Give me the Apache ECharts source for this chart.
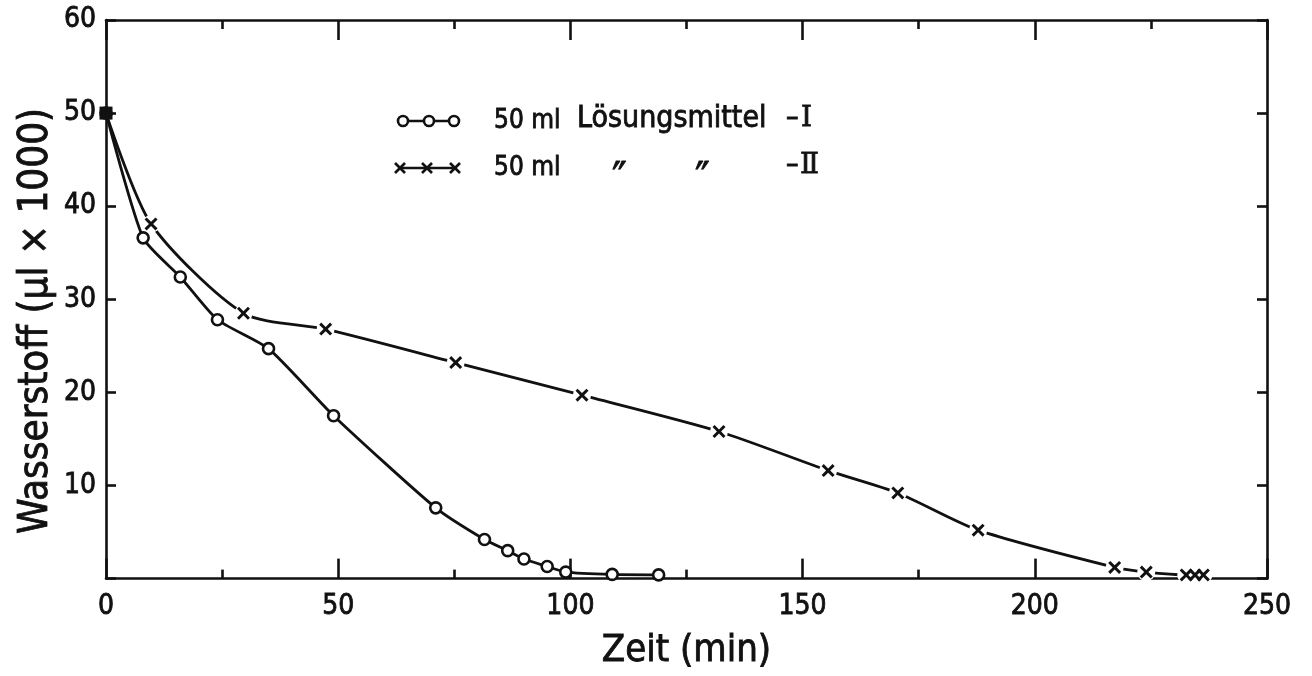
<!DOCTYPE html>
<html>
<head>
<meta charset="utf-8">
<script src="https://cdn.jsdelivr.net/npm/echarts@6/dist/echarts.min.js"></script>
<style>
  html, body { margin: 0; padding: 0; background: #fff; }
  #chart { width: 1312px; height: 676px; }
</style>
</head>
<body>
<div id="chart"></div>
<script>
// Hydrogen uptake over time for two solvent batches
const timeI  = [0, 8, 16, 24, 35, 49, 71, 81.5, 86.5, 90, 95, 99, 109, 119];
const valueI = [50, 36.6, 32.4, 27.8, 24.7, 17.5, 7.6, 4.2, 3.0, 2.1, 1.3, 0.7, 0.45, 0.4];

const timeII  = [0, 9.7, 29.6, 47.3, 75.3, 102.5, 132, 155.5, 170.5, 187.8, 217.2, 224, 232.6, 234.5, 236.3];
const valueII = [50, 38.1, 28.5, 26.8, 23.2, 19.7, 15.8, 11.6, 9.2, 5.2, 1.2, 0.7, 0.4, 0.4, 0.4];

const xTicks = [0, 50, 100, 150, 200, 250];
const yTicks = [10, 20, 30, 40, 50, 60];

const FONT = "'DejaVu Sans Condensed', 'Liberation Sans Narrow', sans-serif";
const SERIF = "'DejaVu Serif', 'Liberation Serif', serif";
const INK = '#111';
const BOLDEN = { textBorderColor: INK, textBorderWidth: 0.8 };
const BOLDEN_G = { stroke: INK, lineWidth: 0.8 };

const pairs = (xs, ys) => xs.map((x, i) => [x, ys[i]]);
const dataI = pairs(timeI, valueI);
const dataII = pairs(timeII, valueII);
const start = [[timeI[0], valueI[0]]];

const chart = echarts.init(document.getElementById('chart'), null, { renderer: 'canvas' });

const xBase = {
  type: 'value', min: xTicks[0], max: xTicks[xTicks.length - 1], interval: 50,
  axisLine: { show: true, onZero: false, lineStyle: { color: INK, width: 2.6 } },
  axisTick: { show: true, inside: true, length: 20, lineStyle: { color: INK, width: 2.6 } },
  minorTick: { show: true, splitNumber: 2, length: 9, lineStyle: { color: INK, width: 2.6 } },
  splitLine: { show: false }, minorSplitLine: { show: false }
};
const yBase = {
  type: 'value', min: 0, max: yTicks[yTicks.length - 1], interval: 10,
  axisLine: { show: true, onZero: false, lineStyle: { color: INK, width: 2.6 } },
  axisTick: { show: true, inside: true, length: 10, lineStyle: { color: INK, width: 2.6 } },
  splitLine: { show: false }
};

// solid X outline so the marker stays crisp
const cross = 'path://M0,1.6 L1.6,0 L5,3.4 L8.4,0 L10,1.6 L6.6,5 L10,8.4 L8.4,10 L5,6.6 L1.6,10 L0,8.4 L3.4,5 Z';

// key glyphs
const keyLine = (x1, y1, x2, y2) => ({ type: 'line', shape: { x1, y1, x2, y2 }, style: { stroke: INK, lineWidth: 2.6 } });
const keyCircle = (cx, cy) => ({ type: 'circle', shape: { cx, cy, r: 5 }, style: { fill: '#fff', stroke: INK, lineWidth: 2.6 } });
const keyCross = (cx, cy) => [keyLine(cx - 5, cy - 5, cx + 5, cy + 5), keyLine(cx + 5, cy - 5, cx - 5, cy + 5)];
const keyText = (x, y, text, size, family) => ({ type: 'text', x, y,
  style: Object.assign({ text, fill: INK, font: (size || 28) + 'px ' + (family || FONT), verticalAlign: 'middle' }, BOLDEN_G) });

chart.setOption({
  backgroundColor: '#fff',
  animation: false,
  grid: { left: 106, right: 45, top: 20, bottom: 96, containLabel: false },
  xAxis: [
    Object.assign({}, xBase, {
      position: 'bottom',
      axisLabel: Object.assign({ show: true, color: INK, fontFamily: FONT, fontSize: 28, margin: 14,
        formatter: v => xTicks.includes(v) ? String(v) : '' }, BOLDEN),
      name: 'Zeit (min)', nameLocation: 'middle', nameGap: 54,
      nameTextStyle: Object.assign({ color: INK, fontFamily: FONT, fontSize: 38 }, BOLDEN)
    }),
    Object.assign({}, xBase, { position: 'top', axisLabel: { show: false } })
  ],
  yAxis: [
    Object.assign({}, yBase, {
      position: 'left',
      axisLabel: Object.assign({ show: true, color: INK, fontFamily: FONT, fontSize: 28, margin: 10,
        formatter: v => yTicks.includes(v) ? String(v) : '' }, BOLDEN)
    }),
    Object.assign({}, yBase, { position: 'right', axisLabel: { show: false } })
  ],
  graphic: [
    { type: 'text', x: 37, y: 321, rotation: Math.PI / 2,
      style: Object.assign({ text: 'Wasserstoff (µl × 1000)', fill: INK, font: '40px ' + FONT,
        align: 'center', verticalAlign: 'middle' }, BOLDEN_G) },
    keyLine(403, 121, 454, 121),
    keyCircle(403, 121), keyCircle(429, 121), keyCircle(454, 121),
    keyLine(399, 168, 456, 168),
    ...keyCross(400, 168), ...keyCross(427, 168), ...keyCross(455, 168),
    keyText(494, 121, '50 ml', 26),
    keyText(577, 119, 'Lösungsmittel', 30),
    keyText(786, 119, '–'),
    keyText(801, 119, 'I', 28, SERIF),
    keyText(494, 168, '50 ml', 26),
    keyText(612, 183, '″', 44),
    keyText(695, 183, '″', 44),
    keyText(786, 166, '–'),
    keyText(800, 166, 'Ⅱ', 28, SERIF)
  ],
  series: [
    {
      name: 'Lösungsmittel I', type: 'line', data: dataI, smooth: 0.2,
      lineStyle: { color: INK, width: 2.8 },
      symbol: 'circle', symbolSize: 11, showAllSymbol: true,
      itemStyle: { color: '#fff', borderColor: INK, borderWidth: 2.6, opacity: 1 }, z: 3
    },
    {
      name: 'Lösungsmittel II', type: 'line', data: dataII, smooth: 0.25,
      lineStyle: { color: INK, width: 2.8 }, symbol: 'none', z: 2
    },
    {
      // white discs open the curve around each cross
      type: 'scatter', data: dataII.slice(1), symbol: 'circle', symbolSize: 18,
      itemStyle: { color: '#fff', opacity: 1 }, silent: true, z: 4
    },
    {
      type: 'scatter', data: dataII.slice(1), symbol: cross, symbolSize: 13,
      itemStyle: { color: INK, opacity: 1 }, z: 5
    },
    {
      type: 'scatter', data: start, symbol: 'rect', symbolSize: 13,
      itemStyle: { color: INK, opacity: 1 }, z: 6
    }
  ]
});
</script>
</body>
</html>
